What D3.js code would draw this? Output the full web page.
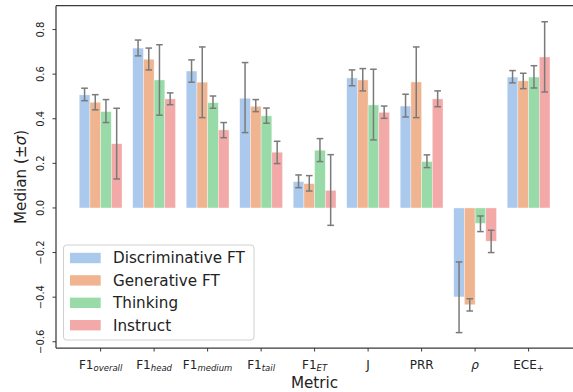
<!DOCTYPE html>
<html>
<head>
<meta charset="utf-8">
<script src="https://cdn.jsdelivr.net/npm/d3@7/dist/d3.min.js"></script>
<style>
  body { margin: 0; background: #fff; }
  text { font-family: "DejaVu Sans", sans-serif; fill: #222; }
</style>
</head>
<body>
<svg id="chart" width="573" height="392"></svg>
<script>
// metric names: [main text, subscript, italic main?]
const categories = [
  ['F1', 'overall', false], ['F1', 'head', false], ['F1', 'medium', false],
  ['F1', 'tail', false], ['F1', 'ET', false], ['J', '', false],
  ['PRR', '', false], ['ρ', '', true], ['ECE', '+', false]
];
const seriesNames = ['Discriminative FT', 'Generative FT', 'Thinking', 'Instruct'];
const seriesColors = ['#aac9ec', '#f0b590', '#98dba8', '#f2a9a7'];

const discMedian = [0.507, 0.717, 0.614, 0.492, 0.118, 0.583, 0.457, -0.399, 0.587];
const discLo     = [0.481, 0.682, 0.564, 0.338, 0.091, 0.548, 0.408, -0.559, 0.561];
const discHi     = [0.537, 0.753, 0.664, 0.652, 0.148, 0.619, 0.510, -0.242, 0.616];

const genMedian = [0.474, 0.667, 0.564, 0.456, 0.109, 0.574, 0.565, -0.434, 0.570];
const genLo     = [0.440, 0.619, 0.405, 0.432, 0.076, 0.525, 0.405, -0.462, 0.535];
const genHi     = [0.508, 0.717, 0.722, 0.486, 0.145, 0.625, 0.722, -0.407, 0.604];

const thinkMedian = [0.432, 0.574, 0.472, 0.413, 0.259, 0.462, 0.208, -0.069, 0.587];
const thinkLo     = [0.383, 0.416, 0.447, 0.380, 0.208, 0.305, 0.181, -0.106, 0.538];
const thinkHi     = [0.486, 0.732, 0.502, 0.448, 0.311, 0.622, 0.238, -0.036, 0.638];

const instMedian = [0.288, 0.489, 0.350, 0.250, 0.079, 0.429, 0.489, -0.149, 0.677];
const instLo     = [0.130, 0.463, 0.315, 0.199, -0.078, 0.402, 0.454, -0.200, 0.520];
const instHi     = [0.447, 0.516, 0.383, 0.299, 0.239, 0.457, 0.525, -0.100, 0.835];

const yTicks = [-0.6, -0.4, -0.2, 0.0, 0.2, 0.4, 0.6, 0.8];

const medians = [discMedian, genMedian, thinkMedian, instMedian];
const los = [discLo, genLo, thinkLo, instLo];
const his = [discHi, genHi, thinkHi, instHi];

const svg = d3.select('#chart');
const mLeft = 56, mRight = 573, mTop = 5.7, mBottom = 348;

const x = d3.scaleLinear().domain([-0.834, 8.83]).range([mLeft, mRight]);
const y = d3.scaleLinear().domain([-0.628, 0.907]).range([mBottom, mTop]);
const barW = 0.2;

// flatten to bar records
const bars = [];
seriesNames.forEach((name, s) => {
  categories.forEach((c, i) => {
    bars.push({s, i, v: medians[s][i], lo: los[s][i], hi: his[s][i]});
  });
});

const plot = svg.append('g');
plot.selectAll('rect.bar')
  .data(bars)
  .join('rect')
    .attr('class', 'bar')
    .attr('x', d => x(d.i - 0.4 + barW * d.s))
    .attr('width', d => x(barW) - x(0))
    .attr('y', d => y(Math.max(0, d.v)))
    .attr('height', d => Math.abs(y(d.v) - y(0)))
    .attr('fill', d => seriesColors[d.s])
    .attr('stroke', '#fff')
    .attr('stroke-opacity', 0.6)
    .attr('stroke-width', 0.6);

// error bars
const err = plot.append('g')
  .attr('stroke', '#7a7a7a')
  .attr('stroke-width', 1.5);
const cx = d => x(d.i - 0.4 + barW * d.s + barW / 2);
err.selectAll('line.v').data(bars).join('line')
  .attr('class', 'v')
  .attr('x1', cx).attr('x2', cx)
  .attr('y1', d => y(d.lo)).attr('y2', d => y(d.hi));
err.selectAll('line.capLo').data(bars).join('line')
  .attr('class', 'capLo')
  .attr('x1', d => cx(d) - 3.3).attr('x2', d => cx(d) + 3.3)
  .attr('y1', d => y(d.lo)).attr('y2', d => y(d.lo));
err.selectAll('line.capHi').data(bars).join('line')
  .attr('class', 'capHi')
  .attr('x1', d => cx(d) - 3.3).attr('x2', d => cx(d) + 3.3)
  .attr('y1', d => y(d.hi)).attr('y2', d => y(d.hi));

// spines
const spineColor = '#3a3a3a';
svg.append('line').attr('x1', mLeft).attr('x2', mLeft).attr('y1', mTop).attr('y2', mBottom)
  .attr('stroke', spineColor).attr('stroke-width', 1.25);
svg.append('line').attr('x1', mLeft).attr('x2', mRight).attr('y1', mTop).attr('y2', mTop)
  .attr('stroke', spineColor).attr('stroke-width', 1.25);
svg.append('line').attr('x1', mLeft).attr('x2', mRight).attr('y1', mBottom).attr('y2', mBottom)
  .attr('stroke', spineColor).attr('stroke-width', 1.25);

// y axis ticks with rotated labels
const yAxis = svg.append('g');
yAxis.selectAll('line').data(yTicks).join('line')
  .attr('x1', mLeft - 3.5).attr('x2', mLeft)
  .attr('y1', d => y(d)).attr('y2', d => y(d))
  .attr('stroke', spineColor).attr('stroke-width', 1);
yAxis.selectAll('text').data(yTicks).join('text')
  .attr('transform', d => `translate(43.5,${y(d)}) rotate(-90)`)
  .attr('text-anchor', 'middle')
  .attr('font-size', 10)
  .text(d => d3.format('.1f')(d).replace('-', '−'));

const yLabel = svg.append('text')
  .attr('transform', `translate(25.5,${(mTop + mBottom) / 2}) rotate(-90)`)
  .attr('text-anchor', 'middle')
  .attr('font-size', 15.2);
yLabel.append('tspan').text('Median (±');
yLabel.append('tspan').attr('font-style', 'italic').text('σ');
yLabel.append('tspan').text(')');

// x axis ticks
const xAxis = svg.append('g');
xAxis.selectAll('line').data(categories).join('line')
  .attr('x1', (d, i) => x(i)).attr('x2', (d, i) => x(i))
  .attr('y1', mBottom).attr('y2', mBottom + 3.5)
  .attr('stroke', spineColor).attr('stroke-width', 1);
const xl = xAxis.selectAll('text').data(categories).join('text')
  .attr('x', (d, i) => x(i))
  .attr('y', 368.5)
  .attr('text-anchor', 'middle')
  .attr('font-size', 12);
xl.append('tspan')
  .attr('font-style', d => d[2] ? 'italic' : 'normal')
  .text(d => d[0]);
xl.filter(d => d[1]).append('tspan')
  .attr('dy', 2.6)
  .attr('font-size', 8.5)
  .attr('font-style', d => d[1] === '+' ? 'normal' : 'italic')
  .text(d => d[1]);

svg.append('text')
  .attr('x', (mLeft + mRight) / 2)
  .attr('y', 388)
  .attr('text-anchor', 'middle')
  .attr('font-size', 15.2)
  .text('Metric');

// legend
const legend = svg.append('g');
legend.append('rect')
  .attr('x', 63.5).attr('y', 245).attr('width', 190.5).attr('height', 95)
  .attr('rx', 3)
  .attr('fill', '#fff').attr('fill-opacity', 0.8)
  .attr('stroke', '#d0d0d0').attr('stroke-width', 1);
const rows = legend.selectAll('g.row').data(seriesNames).join('g')
  .attr('class', 'row')
  .attr('transform', (d, i) => `translate(0,${258 + i * 22.4})`);
rows.append('rect')
  .attr('x', 70).attr('y', -5.2).attr('width', 30.7).attr('height', 10.4)
  .attr('fill', (d, i) => seriesColors[i]);
rows.append('text')
  .attr('x', 113).attr('y', 5.3)
  .attr('font-size', 15.2)
  .text(d => d);
</script>
</body>
</html>
